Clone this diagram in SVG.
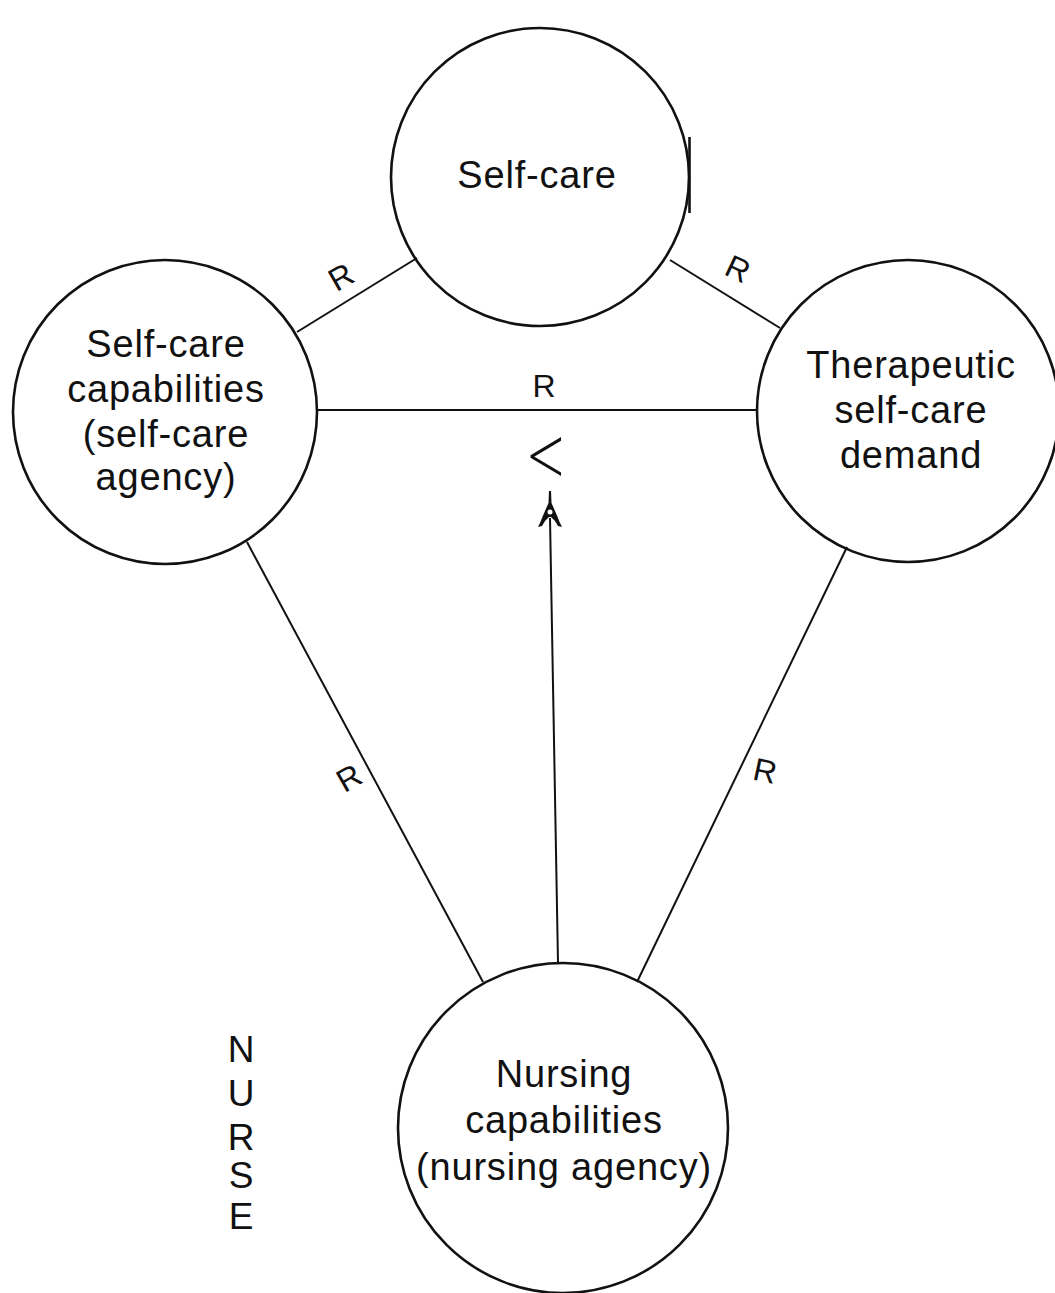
<svg xmlns="http://www.w3.org/2000/svg" width="1055" height="1293" viewBox="0 0 1055 1293">
<style>
.node{fill:none;stroke:#111;stroke-width:2.6}
.lbl{font-family:"Liberation Sans",Arial,sans-serif;font-size:38px;fill:#111;text-anchor:middle;letter-spacing:0.8px}
.conn line{stroke:#111;stroke-width:2}
.r{font-family:"Liberation Sans",Arial,sans-serif;font-size:32px;fill:#111;text-anchor:middle}
.nurse{font-family:"Liberation Sans",Arial,sans-serif;font-size:37px;fill:#111;text-anchor:middle}
</style>
<rect width="1055" height="1293" fill="#fff"/>
<g id="connectors" class="conn">
<line x1="297" y1="332" x2="417" y2="258"/>
<line x1="670" y1="260" x2="780" y2="328"/>
<line x1="317" y1="410" x2="757" y2="410"/>
<line x1="247" y1="542" x2="483" y2="982"/>
<line x1="847" y1="547" x2="637" y2="982"/>
<line x1="558" y1="963" x2="550" y2="518"/>
<path d="M549,491 L551,491 L551.5,503 Q556,513 560,523 L562,527 L558,526 Q555,520 551,517 L549,517 Q545,520 542,526 L538,527 L540,523 Q544,513 548.5,503 Z" fill="#111" stroke="none"/>
<circle cx="550" cy="512" r="2.5" fill="#fff"/>
<text class="r" x="341" y="288" transform="rotate(-30 341 277)">R</text>
<text class="r" x="738" y="280" transform="rotate(25 738 269)">R</text>
<text class="r" x="544" y="397">R</text>
<text class="r" x="349" y="789" transform="rotate(-30 349 778)">R</text>
<text class="r" x="765" y="782" transform="rotate(12 765 771)">R</text>
<text x="547" y="477" font-family="Inter,'Liberation Sans',sans-serif" font-weight="200" font-size="74" fill="#111" text-anchor="middle">&lt;</text>
</g>
<g id="self-care">
<circle class="node" cx="540" cy="177" r="149"/>
<line x1="689.5" y1="137" x2="689.5" y2="213" stroke="#111" stroke-width="2.6"/>
<text class="lbl" x="537" y="188">Self-care</text>
</g>
<g id="self-care-capabilities">
<circle class="node" cx="165" cy="412" r="152"/>
<text class="lbl" x="166" y="357">Self-care</text>
<text class="lbl" x="166" y="402">capabilities</text>
<text class="lbl" x="166" y="447">(self-care</text>
<text class="lbl" x="166" y="490">agency)</text>
</g>
<g id="therapeutic-demand">
<circle class="node" cx="908" cy="411" r="151"/>
<text class="lbl" x="911" y="378">Therapeutic</text>
<text class="lbl" x="911" y="423">self-care</text>
<text class="lbl" x="911" y="468">demand</text>
</g>
<g id="nursing-capabilities">
<circle class="node" cx="563" cy="1128" r="165"/>
<text class="lbl" x="564" y="1087">Nursing</text>
<text class="lbl" x="564" y="1133">capabilities</text>
<text class="lbl" x="564" y="1180">(nursing agency)</text>
</g>
<g id="nurse-label">
<text class="nurse" x="241" y="1062">N</text>
<text class="nurse" x="241" y="1106">U</text>
<text class="nurse" x="241" y="1150">R</text>
<text class="nurse" x="241" y="1188">S</text>
<text class="nurse" x="241" y="1229">E</text>
</g>
</svg>
